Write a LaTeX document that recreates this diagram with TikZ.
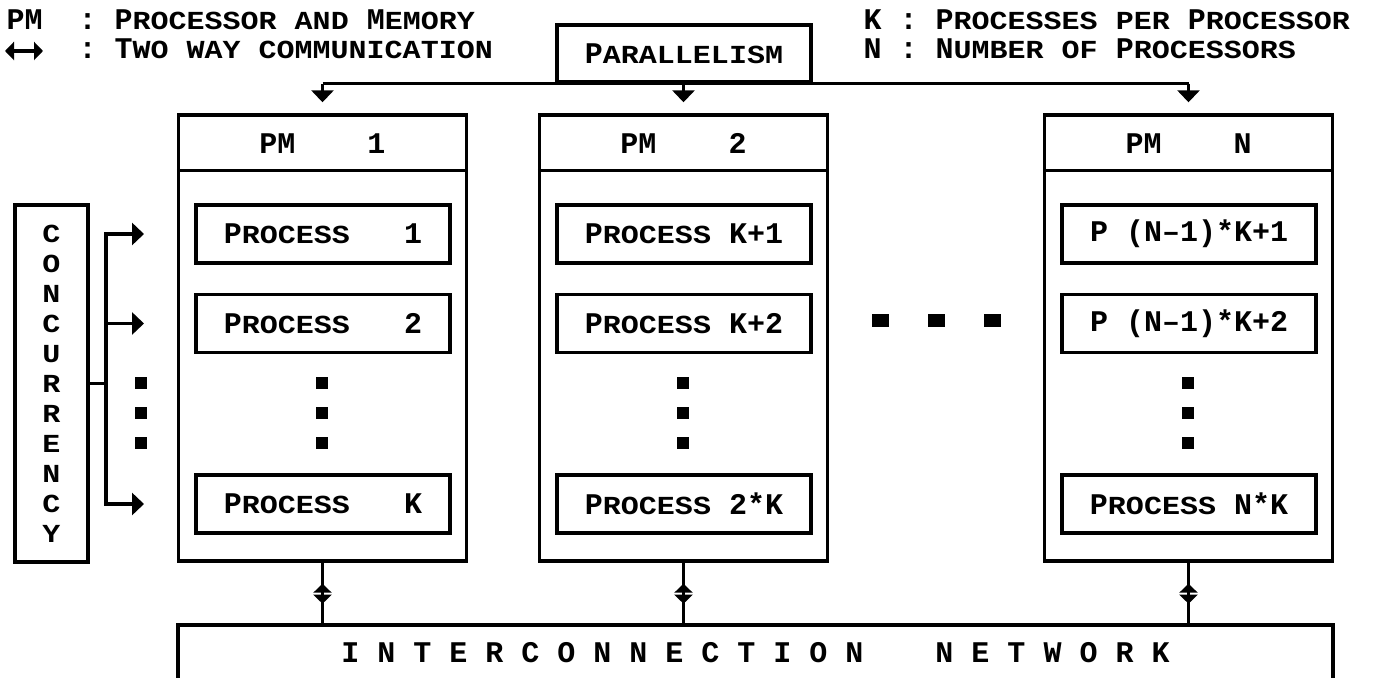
\documentclass[tikz,border=0pt]{standalone}
\usepackage{fontspec}
\usetikzlibrary{arrows.meta,calc,decorations.markings}
\newfontfamily\pixA{Liberation Mono}[FakeStretch=1.0]
\newfontfamily\pixB{Liberation Mono}[FakeStretch=1.154]
\newcommand\cp[1]{{\pixA\bfseries\fontsize{15}{16}\selectfont #1}}
\newcommand\lw[1]{{\pixB\bfseries\fontsize{13}{15}\selectfont #1}}
\begin{document}
\begin{tikzpicture}[x=0.5pt,y=-0.5pt, line width=1.7pt,
  box/.style={draw, inner sep=0pt, line width=1.7pt},
  pmbox/.style={box, minimum width=144pt, minimum height=223pt},
  procbox/.style={box, minimum width=127pt, minimum height=29pt},
  arr/.style={-{Triangle[width=11pt,length=6pt]}},
  dotsq/.style={fill, inner sep=0pt, minimum width=6pt, minimum height=6pt},
  dbl/.style={decoration={markings,
     mark=at position 10.5pt with {\arrowreversed{Triangle[width=9pt,length=4.5pt]}},
     mark=at position 20.5pt with {\arrow{Triangle[width=9pt,length=4.5pt]}}},
     postaction=decorate},
  lbl/.style={inner sep=0pt}]
\useasboundingbox (0,0) rectangle (1375,678);
\clip (0,0) rectangle (1375,678);
\fill[white] (0,0) rectangle (1375,678);

% legend
\node[lbl, anchor=base west] (lg1) at (5,30) {\cp{PM\ \ :\ P}\lw{ROCESSOR AND}\cp{\ M}\lw{EMORY}};
\coordinate (la) at (5,51);
\coordinate (lb) at (43,51);
\draw[{Triangle[width=9pt,length=4.5pt]}-{Triangle[width=9pt,length=4.5pt]}] (la) -- (lb);
\node[lbl, anchor=base west] (lg2) at (77,59) {\cp{:\ T}\lw{WO WAY COMMUNICATION}};
\node[lbl, anchor=base west] (lg3) at (862,30) {\cp{K\ :\ P}\lw{ROCESSES PER}\cp{\ P}\lw{ROCESSOR}};
\node[lbl, anchor=base west] (lg4) at (862,59) {\cp{N\ :\ N}\lw{UMBER OF}\cp{\ P}\lw{ROCESSORS}};

% parallelism
\node[box, minimum width=127pt, minimum height=28.5pt] (par) at (684,53.5) {\cp{P}\lw{ARALLELISM}};

% PM boxes
\node[pmbox] (pm1) at (322.5,338) {};
\node[pmbox] (pm2) at (683.5,338) {};
\node[pmbox] (pmN) at (1188.5,338) {};
\foreach \p in {pm1,pm2,pmN}
  \draw ($(\p.north west)+(0,57)$) -- ($(\p.north east)+(0,57)$);
\node[lbl] (h1) at (322.5,143.5) {\cp{PM\ \ \ \ 1}};
\node[lbl] (h2) at (683.5,143.5) {\cp{PM\ \ \ \ 2}};
\node[lbl] (hN) at (1188.5,143.5) {\cp{PM\ \ \ \ N}};

% process boxes
\node[procbox] (p11) at (323,234) {\cp{P}\lw{ROCESS}\cp{\ \ \ 1}};
\node[procbox] (p12) at (323,323.5) {\cp{P}\lw{ROCESS}\cp{\ \ \ 2}};
\node[procbox] (p1K) at (323,504) {\cp{P}\lw{ROCESS}\cp{\ \ \ K}};
\node[procbox] (p21) at (684,234) {\cp{P}\lw{ROCESS}\cp{\ K+1}};
\node[procbox] (p22) at (684,323.5) {\cp{P}\lw{ROCESS}\cp{\ K+2}};
\node[procbox] (p2K) at (684,504) {\cp{P}\lw{ROCESS}\cp{\ 2*K}};
\node[procbox] (pN1) at (1189,234) {\cp{P (N–1)*K+1}};
\node[procbox] (pN2) at (1189,323.5) {\cp{P (N–1)*K+2}};
\node[procbox] (pNK) at (1189,504) {\cp{P}\lw{ROCESS}\cp{\ N*K}};

% vertical dots
\foreach \x/\n in {141/L,322/A,683/B,1188/C}
  \foreach \y/\m in {383/1,413/2,443/3}
    \node[dotsq] (d\n\m) at (\x,\y) {};
% horizontal dots
\foreach \x/\m in {880/1,936/2,992/3}
  \node[dotsq, minimum width=8.5pt, minimum height=6.5pt] (m\m) at (\x,321) {};

% concurrency
\node[box, minimum width=36.5pt, minimum height=178.5pt, align=center,
      font=\pixB\bfseries\fontsize{13}{15}\selectfont] (conc) at (51.5,383.5)
      {C\\O\\N\\C\\U\\R\\R\\E\\N\\C\\Y};
\coordinate (br) at (106,383.5);
\coordinate (a1) at (144,234);
\coordinate (a2) at (144,323.5);
\coordinate (aK) at (144,504);
\draw (conc.east) -- (br);
\draw[arr] (br) |- (a1);
\draw[arr] (br) |- (aK);
\draw[arr] (br |- a2) -- (a2);

% parallelism connectors
\draw (par.south -| pm1.north) -- (par.south -| pmN.north);
\foreach \p in {pm1,pm2,pmN}
  \draw[arr] (par.south -| \p.north) -- ($(\p.north)+(0,-11)$);

% network
\node[box, minimum width=577.5pt, minimum height=50pt] (net) at (755.5,675) {};
\node[lbl] (nett) at (755.5,653) {\cp{I\ N\ T\ E\ R\ C\ O\ N\ N\ E\ C\ T\ I\ O\ N\ \ \ \ N\ E\ T\ W\ O\ R\ K}};
\foreach \p in {pm1,pm2,pmN}
  \draw[dbl] (\p.south) -- (\p.south |- net.north);
\end{tikzpicture}
\end{document}
